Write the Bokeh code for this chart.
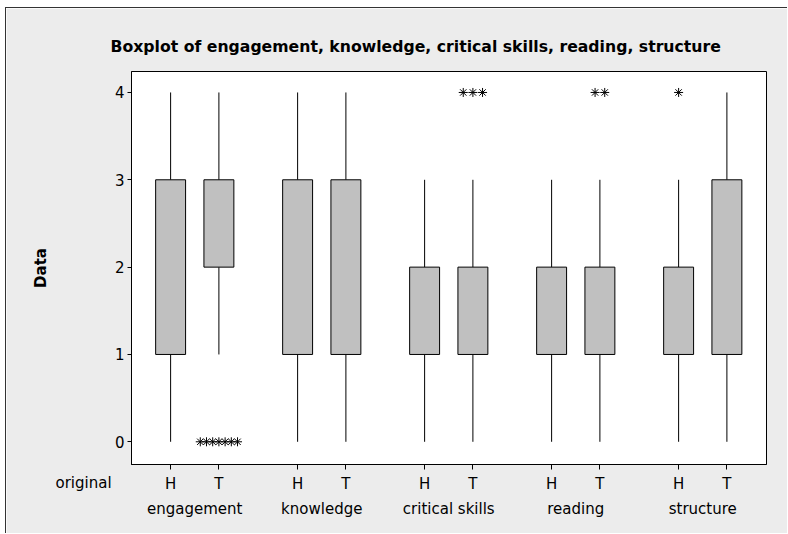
from bokeh.plotting import figure
from bokeh.models import ColumnDataSource, FixedTicker, LinearAxis, Title, Range1d
from bokeh.embed import file_html
from bokeh.resources import INLINE

variables = ["engagement", "knowledge", "critical skills", "reading", "structure"]
groups = ["H", "T"]
# one entry per box, ordered engagement H, engagement T, knowledge H, ...
whisker_low = [0, 1, 0, 0, 0, 0, 0, 0, 0, 0]
q1 = [1, 2, 1, 1, 1, 1, 1, 1, 1, 1]
median = [2, 2, 2, 2, 2, 2, 1, 1, 2, 2]
q3 = [3, 3, 3, 3, 2, 2, 2, 2, 2, 3]
whisker_high = [4, 4, 4, 4, 3, 3, 3, 3, 3, 4]
# outliers: (box index, value)
outlier_box = [1, 1, 1, 1, 1, 1, 1, 5, 5, 5, 7, 7, 8]
outlier_val = [0, 0, 0, 0, 0, 0, 0, 4, 4, 4, 4, 4, 4]
y_ticks = [0, 1, 2, 3, 4]

GAP = 2.63
pos = [g * GAP + s for g in range(len(variables)) for s in range(len(groups))]
sub_labels = [groups[s] for g in range(len(variables)) for s in range(len(groups))]
group_centers = [g * GAP + 0.5 for g in range(len(variables))]

# outlier positions spread side by side
ox = []
counts = {}
for b in outlier_box:
    counts[b] = counts.get(b, 0) + 1
seen = {}
for b, v in zip(outlier_box, outlier_val):
    n = counts[b]
    i = seen.get(b, 0)
    seen[b] = i + 1
    sp = min(0.2, 0.9 / n)
    ox.append(pos[b] + (i - (n - 1) / 2) * sp)

FONT = "DejaVu Sans"
FS = "15px"

p = figure(width=782, height=526, output_backend="svg", toolbar_location=None,
           x_range=Range1d(-0.81, 12.34), y_range=Range1d(-0.26, 4.24),
           title="Boxplot of engagement, knowledge, critical skills, reading, structure",
           min_border_left=125, min_border_right=22, min_border_top=63, min_border_bottom=70,
           x_axis_type=None,
           styles={"margin-left": "5px", "margin-top": "7px",
                   "border-left": "1px solid #333", "border-top": "1px solid #333"})
p.background_fill_color = "white"
p.border_fill_color = "#ECECEC"
p.outline_line_color = "black"
p.outline_line_width = 1
p.xgrid.visible = False
p.ygrid.visible = False

p.title.text_font = FONT
p.title.text_font_size = "15.7px"
p.title.text_font_style = "bold"
p.title.align = "left"
p.title.offset = -21
p.title.text_color = "black"
p.title.standoff = 31

src = ColumnDataSource(dict(x=pos, lo=whisker_low, q1=q1, med=median, q3=q3, hi=whisker_high))
p.segment(x0="x", y0="lo", x1="x", y1="q1", source=src, line_color="black", line_width=1)
p.segment(x0="x", y0="q3", x1="x", y1="hi", source=src, line_color="black", line_width=1)
p.vbar(x="x", bottom="q1", top="q3", width=0.62, source=src, fill_color="#C0C0C0",
       line_color="black", line_width=1)
p.rect(x="x", y="med", width=0.62, height=0, source=src, line_color="black", line_width=1,
       fill_alpha=0)

osrc = ColumnDataSource(dict(x=ox, y=outlier_val))
p.scatter(x="x", y="y", source=osrc, marker="asterisk", size=9, line_color="black",
          line_width=1)

# y axis
yax = p.yaxis[0]
yax.ticker = FixedTicker(ticks=y_ticks)
yax.minor_tick_line_color = None
yax.major_tick_out = 4
yax.major_tick_in = 0
yax.axis_label = "Data"
yax.axis_label_text_font = FONT
yax.axis_label_text_font_style = "bold"
yax.axis_label_text_font_size = FS
yax.axis_label_text_color = "black"
yax.axis_label_standoff = 62
yax.major_label_text_font = FONT
yax.major_label_text_font_size = FS
yax.major_label_text_color = "black"
yax.major_label_standoff = 3
yax.axis_line_color = "black"
yax.major_tick_line_color = "black"

# x axis: H/T
xax = LinearAxis(ticker=FixedTicker(ticks=pos),
                 major_label_overrides={pv: lab for pv, lab in zip(pos, sub_labels)})
xax.minor_tick_line_color = None
xax.major_tick_out = 5
xax.major_tick_in = 0
xax.major_label_text_font = FONT
xax.major_label_text_font_size = FS
xax.major_label_text_color = "black"
xax.major_label_standoff = 5
xax.axis_line_color = "black"
xax.major_tick_line_color = "black"
p.add_layout(xax, "below")

# x axis: variable names
gax = LinearAxis(ticker=FixedTicker(ticks=group_centers),
                 major_label_overrides={pv: lab for pv, lab in zip(group_centers, variables)})
gax.minor_tick_line_color = None
gax.major_tick_line_color = None
gax.axis_line_color = None
gax.major_label_text_font = FONT
gax.major_label_text_font_size = FS
gax.major_label_text_color = "black"
gax.major_label_standoff = -2
p.add_layout(gax, "below")

# row label left of the H/T labels
orig = Title(text="original", align="left", offset=-76, standoff=-94, vertical_align="top",
             text_font=FONT, text_font_size=FS, text_font_style="normal", text_color="black")
p.add_layout(orig, "below")

open("out.html", "w").write(file_html(p, INLINE))
